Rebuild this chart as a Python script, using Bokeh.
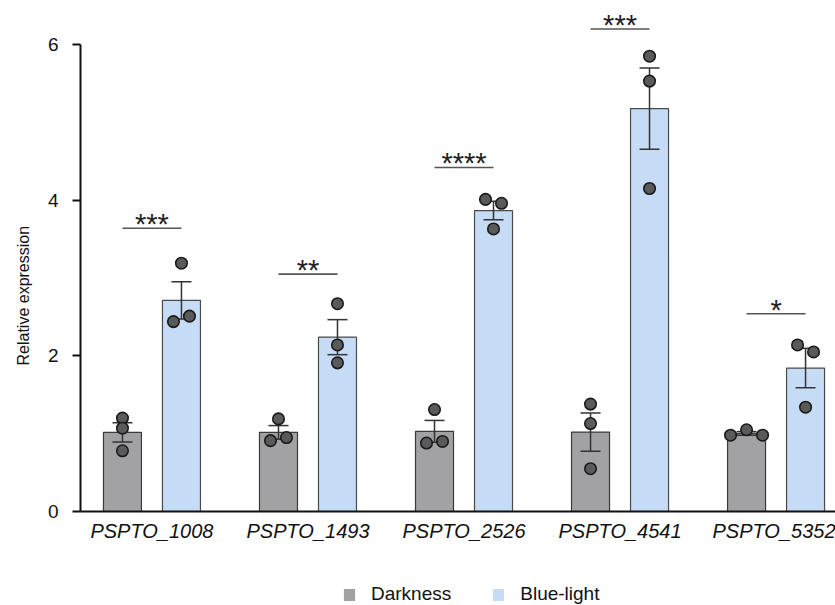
from bokeh.plotting import figure
from bokeh.layouts import column
from bokeh.models import Range1d, FixedTicker, Legend, LegendItem, ColumnDataSource, Title
from bokeh.embed import file_html
from bokeh.resources import INLINE
from bokeh.core.properties import value
import numpy as np

# ---------------- data ----------------
genes = ["PSPTO_1008", "PSPTO_1493", "PSPTO_2526", "PSPTO_4541", "PSPTO_5352"]
darkness_reps = [
    [1.20, 1.07, 0.78],
    [1.19, 0.91, 0.95],
    [1.31, 0.88, 0.90],
    [1.38, 1.13, 0.55],
    [0.98, 1.05, 0.98],
]
bluelight_reps = [
    [3.19, 2.44, 2.51],
    [2.67, 2.14, 1.91],
    [4.01, 3.96, 3.63],
    [5.85, 5.53, 4.15],
    [2.14, 2.05, 1.34],
]
significance = ["***", "**", "****", "***", "*"]
sig_heights = [3.64, 3.05, 4.42, 6.20, 2.54]
y_ticks = [0, 2, 4, 6]
series_names = ["Darkness", "Blue-light"]
y_label = "Relative expression"

# ---------------- layout / style ----------------
FONT = "Liberation Sans"
W = 835
H_MAIN, H_LEG = 560, 45
B_LEFT, B_TOP, B_BOTTOM = 80, 0, 49
frame_w = W - B_LEFT
frame_h = H_MAIN - B_TOP - B_BOTTOM
x_start, x_end = -0.458, 4.381
y_start = 0.0
y_end = frame_h / 77.83
px_x = frame_w / (x_end - x_start)
px_y = frame_h / (y_end - y_start)

DODGE = 29.5 / px_x
BAR_W = 38 / px_x
CAP_HALF = 10 / px_x
colors = ["#A2A2A5", "#C6DCF6"]
edge_colors = ["#3a3a3a", "#4a4a4a"]


def spread(vals, thresh=9.0, step=16.0):
    """simple beeswarm: nearby points spread sideways in list order (px)"""
    offs = [0.0] * len(vals)
    order = sorted(range(len(vals)), key=lambda i: vals[i])
    clusters = []
    for i in order:
        if clusters and abs(vals[i] - vals[clusters[-1][-1]]) * px_y < thresh:
            clusters[-1].append(i)
        else:
            clusters.append([i])
    for c in clusters:
        c = sorted(c)
        n = len(c)
        for k, i in enumerate(c):
            offs[i] = (k - (n - 1) / 2) * step
    return offs


p = figure(width=W, height=H_MAIN, output_backend="svg", toolbar_location=None,
           x_range=Range1d(x_start, x_end), y_range=Range1d(y_start, y_end),
           min_border_left=B_LEFT, min_border_right=0, min_border_top=B_TOP,
           min_border_bottom=B_BOTTOM)
p.outline_line_color = None
p.xgrid.visible = False
p.ygrid.visible = False
p.background_fill_color = "white"
p.border_fill_color = "white"

centers = np.arange(len(genes), dtype=float)
all_means = []
for s, reps in enumerate([darkness_reps, bluelight_reps]):
    reps_a = np.array(reps)
    means = reps_a.mean(axis=1)
    all_means.append(means)
    sem = reps_a.std(axis=1, ddof=1) / np.sqrt(reps_a.shape[1])
    xs = centers + (-DODGE if s == 0 else DODGE)
    src = ColumnDataSource(dict(x=xs, top=means, lo=means - sem, hi=means + sem,
                                cl=xs - CAP_HALF, cr=xs + CAP_HALF))
    p.vbar(x="x", top="top", width=BAR_W, bottom=0, source=src,
           fill_color=colors[s], line_color=edge_colors[s], line_width=1.2)
    # error bars
    p.segment(x0="x", y0="lo", x1="x", y1="hi", source=src, line_color="#333333", line_width=1.5)
    p.segment(x0="cl", y0="hi", x1="cr", y1="hi", source=src, line_color="#333333", line_width=1.5)
    p.segment(x0="cl", y0="lo", x1="cr", y1="lo", source=src, line_color="#333333", line_width=1.5)
    # individual points
    px_, py_ = [], []
    for g, vals in enumerate(reps):
        offs = spread(vals)
        for v, o in zip(vals, offs):
            px_.append(xs[g] + o / px_x)
            py_.append(v)
    p.scatter(px_, py_, size=11.5, fill_color="#5a5a5a", line_color="#1a1a1a", line_width=1.6)

# significance lines and stars
p.segment(x0=centers - DODGE, y0=sig_heights, x1=centers + DODGE, y1=sig_heights,
          line_color="#555555", line_width=1.6)
p.text(x=centers, y=sig_heights, text=significance, text_align="center",
       text_baseline="alphabetic", y_offset=-4, text_font_size="29px",
       text_font=value(FONT), text_color="#222222")

# axes
xa = p.xaxis[0]
xa.ticker = FixedTicker(ticks=list(centers))
xa.major_label_overrides = {float(i): g for i, g in enumerate(genes)}
xa.major_tick_out = 0
xa.major_tick_in = 0
xa.minor_tick_out = 0
xa.minor_tick_in = 0
xa.axis_line_width = 2
xa.axis_line_color = "#111111"
xa.major_label_text_font = FONT
xa.major_label_text_font_style = "italic"
xa.major_label_text_font_size = "20px"
xa.major_label_text_color = "#111111"
xa.major_label_standoff = 8

ya = p.yaxis[0]
ya.ticker = FixedTicker(ticks=y_ticks)
ya.bounds = (0, 6)
ya.axis_line_width = 2
ya.axis_line_color = "#111111"
ya.major_tick_line_width = 2
ya.major_tick_line_color = "#111111"
ya.major_tick_out = 8
ya.major_tick_in = 0
ya.minor_tick_out = 0
ya.minor_tick_in = 0
ya.major_label_text_font = FONT
ya.major_label_text_font_size = "19px"
ya.major_label_text_color = "#111111"
ya.major_label_standoff = 14

# y-axis title placed as a left-side Title so it can sit lower than the frame centre
ytitle = Title(text=y_label, align="left", offset=146, standoff=25,
               text_font=FONT, text_font_size="16px", text_font_style="normal",
               text_color="#111111")
p.add_layout(ytitle, "left")

# ---------------- legend strip (separate small figure) ----------------
lf = figure(width=W, height=H_LEG, output_backend="svg", toolbar_location=None,
            x_range=Range1d(100, 101), y_range=Range1d(100, 101),
            x_axis_location=None, y_axis_location=None, min_border=0)
lf.outline_line_color = None
lf.xgrid.visible = False
lf.ygrid.visible = False
leg_renderers = [lf.vbar(x=centers, top=all_means[i], width=0.3, fill_color=colors[i],
                         line_color=None)
                 for i in range(2)]
legend = Legend(items=[LegendItem(label=series_names[i], renderers=[leg_renderers[i]])
                       for i in range(2)],
                location=(262, 0), orientation="horizontal",
                border_line_color=None, background_fill_alpha=0,
                padding=0, margin=0, spacing=40, label_standoff=15,
                glyph_width=14, glyph_height=15, label_height=15,
                label_text_font=FONT, label_text_font_size="19px",
                label_text_color="#111111")
lf.add_layout(legend)

open("out.html", "w").write(file_html(column(p, lf), INLINE))
